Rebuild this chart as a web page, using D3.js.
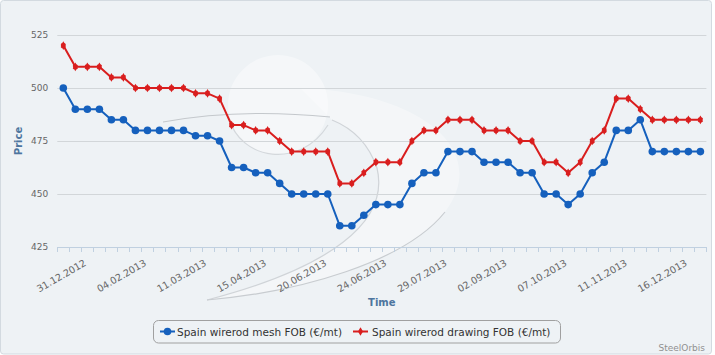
<!DOCTYPE html>
<html>
<head>
<meta charset="utf-8">
<script src="https://cdn.jsdelivr.net/npm/d3@7"></script>
<style>
html,body{margin:0;padding:0;background:#ffffff;}
svg{display:block;}
</style>
</head>
<body>
<svg id="chart" width="715" height="355"></svg>
<script>
// ---- data ----
const categories = [
  "17.12.2012","24.12.2012","31.12.2012","07.01.2013","14.01.2013","21.01.2013","28.01.2013","04.02.2013",
  "11.02.2013","18.02.2013","25.02.2013","04.03.2013","11.03.2013","18.03.2013","25.03.2013","01.04.2013",
  "08.04.2013","15.04.2013","22.04.2013","29.04.2013","06.05.2013","13.05.2013","20.06.2013","27.05.2013",
  "03.06.2013","10.06.2013","17.06.2013","24.06.2013","01.07.2013","08.07.2013","15.07.2013","22.07.2013",
  "29.07.2013","05.08.2013","12.08.2013","19.08.2013","26.08.2013","02.09.2013","09.09.2013","16.09.2013",
  "23.09.2013","30.09.2013","07.10.2013","14.10.2013","21.10.2013","28.10.2013","04.11.2013","11.11.2013",
  "18.11.2013","25.11.2013","02.12.2013","09.12.2013","16.12.2013","23.12.2013"
];
const meshValues = [
  500,490,490,490,485,485,480,480,480,480,480,477.5,477.5,475,462.5,462.5,460,460,
  455,450,450,450,450,435,435,440,445,445,445,455,460,460,470,470,470,
  465,465,465,460,460,450,450,445,450,460,465,480,480,485,470,470,470,470,470
];
const drawingValues = [
  520,510,510,510,505,505,500,500,500,500,500,497.5,497.5,495,482.5,482.5,480,480,
  475,470,470,470,470,455,455,460,465,465,465,475,480,480,485,485,485,
  480,480,480,475,475,465,465,460,465,475,480,495,495,490,485,485,485,485,485
];
const xTickLabels = ["31.12.2012","04.02.2013","11.03.2013","15.04.2013","20.06.2013","24.06.2013",
  "29.07.2013","02.09.2013","07.10.2013","11.11.2013","16.12.2013"];
const yTicks = [425,450,475,500,525];
const seriesNames = ["Spain wirerod mesh FOB (€/mt)","Spain wirerod drawing FOB (€/mt)"];
const seriesColors = ["#1560bd","#d91e1e"];

// ---- layout ----
const svg = d3.select("#chart");
const L = 57.3, R = 706.4, T = 35, B = 247;
const font = "'DejaVu Sans', Verdana, sans-serif";

svg.append("rect").attr("x",0.5).attr("y",0.5).attr("width",711).attr("height",353.5)
  .attr("rx",3).attr("fill","#eef2f5").attr("stroke","#d3dae0");

// watermark
const wm = svg.append("g").attr("pointer-events","none");
wm.append("path")
  .attr("d","M300,88 C420,92 492,150 445,212 C405,262 300,292 207,300 C330,268 392,222 377,168 C368,142 352,128 332,120 Z")
  .attr("fill","#ffffff").attr("opacity",0.35);
wm.append("circle").attr("cx",278).attr("cy",105).attr("r",50).attr("fill","#ffffff").attr("opacity",0.4);
wm.append("path").attr("d","M163,122 Q240,108 330,117").attr("fill","none").attr("stroke","#c4c8cc").attr("stroke-width",1.2);
wm.append("path").attr("d","M332,120 C352,128 368,142 377,168 C390,222 330,268 207,300")
  .attr("fill","none").attr("stroke","#d0d4d8").attr("stroke-width",1.2);
wm.append("path").attr("d","M445,212 C405,262 300,292 207,300")
  .attr("fill","none").attr("stroke","#c8ccd0").attr("stroke-width",1.2);
wm.append("path").attr("d","M229,118 C240,160 300,170 328,125")
  .attr("fill","none").attr("stroke","#d4d8dc").attr("stroke-width",1.2);

const x = d3.scaleBand().domain(d3.range(categories.length)).range([L,R]).padding(0);
const cx = i => x(i) + x.bandwidth()/2;
const y = d3.scaleLinear().domain([425,525]).range([B,T]);

// gridlines
svg.append("g").selectAll("line").data(yTicks.slice(1)).join("line")
  .attr("x1",L).attr("x2",R).attr("y1",d=>Math.round(y(d))+0.5).attr("y2",d=>Math.round(y(d))+0.5)
  .attr("stroke","#d2d6d9").attr("stroke-width",1.2);

// y axis labels
const yAxis = d3.axisLeft(y).tickValues(yTicks).tickSize(0).tickPadding(9);
const gy = svg.append("g").attr("transform",`translate(${L},0)`).call(yAxis);
gy.select(".domain").remove();
gy.selectAll("text").attr("font-family",font).attr("font-size","9px").attr("fill","#666");

// x axis
const gx = svg.append("g").attr("transform",`translate(0,${B})`);
gx.append("line").attr("x1",L).attr("x2",R).attr("y1",0.5).attr("y2",0.5).attr("stroke","#c0d0e0").attr("stroke-width",1.2);
const boundaries = d3.range(categories.length+1).map(i => i===categories.length ? R : x(i));
gx.selectAll("line.tk").data(boundaries).join("line").attr("class","tk")
  .attr("x1",d=>Math.round(d)+0.5).attr("x2",d=>Math.round(d)+0.5).attr("y1",0).attr("y2",5)
  .attr("stroke","#c0d0e0").attr("stroke-width",1);
const labelIdx = xTickLabels.map(l => categories.indexOf(l));
gx.selectAll("text.xl").data(labelIdx).join("text").attr("class","xl")
  .attr("transform",d=>`translate(${cx(d)-0.5},18) rotate(-30)`)
  .attr("text-anchor","end").attr("font-family",font).attr("font-size","9.6px").attr("fill","#666")
  .text(d=>categories[d]);

// axis titles
svg.append("text").attr("x",(L+R)/2).attr("y",306).attr("text-anchor","middle")
  .attr("font-family",font).attr("font-weight","bold").attr("font-size","10px").attr("fill","#4d759e").text("Time");
svg.append("text").attr("transform",`translate(22,${(T+B)/2}) rotate(-90)`).attr("text-anchor","middle")
  .attr("font-family",font).attr("font-weight","bold").attr("font-size","10px").attr("fill","#4d759e").text("Price");

// series
const line = d3.line().x((d,i)=>cx(i)).y(d=>y(d));
const diamond = d3.symbol().type(d3.symbolDiamond).size(22);
[meshValues, drawingValues].forEach((vals,si)=>{
  const g = svg.append("g");
  g.append("path").datum(vals).attr("d",line).attr("fill","none")
    .attr("stroke",seriesColors[si]).attr("stroke-width",2).attr("stroke-linejoin","round");
  if(si===0){
    g.selectAll("circle").data(vals).join("circle").attr("cx",(d,i)=>cx(i)).attr("cy",d=>y(d))
      .attr("r",3.8).attr("fill",seriesColors[si]);
  } else {
    g.selectAll("path.m").data(vals).join("path").attr("class","m")
      .attr("transform",(d,i)=>`translate(${cx(i)},${y(d)}) rotate(45) scale(1.05)`)
      .attr("d",d3.symbol().type(d3.symbolCross).size(16)).attr("fill",seriesColors[si]);
    g.selectAll("path.m2").data(vals).join("path").attr("class","m2")
      .attr("transform",(d,i)=>`translate(${cx(i)},${y(d)})`)
      .attr("d",diamond).attr("fill",seriesColors[si]);
  }
});

// legend
const lg = svg.append("g");
lg.append("rect").attr("x",153.5).attr("y",320.5).attr("width",407).attr("height",22.5).attr("rx",5)
  .attr("fill","none").attr("stroke","#a0a0a0").attr("stroke-width",1);
const items = [{x:160, tx:177},{x:353, tx:372}];
items.forEach((it,si)=>{
  lg.append("line").attr("x1",it.x).attr("x2",it.x+15).attr("y1",331.5).attr("y2",331.5)
    .attr("stroke",seriesColors[si]).attr("stroke-width",2);
  if(si===0) lg.append("circle").attr("cx",it.x+7.5).attr("cy",331.5).attr("r",3.8).attr("fill",seriesColors[si]);
  else lg.append("path").attr("transform",`translate(${it.x+7.5},331.5)`).attr("d",diamond).attr("fill",seriesColors[si]);
  lg.append("text").attr("x",it.tx).attr("y",335.5).attr("font-family",font).attr("font-size","10.5px")
    .attr("fill","#333").text(seriesNames[si]);
});

// credits
svg.append("text").attr("x",705).attr("y",351).attr("text-anchor","end").attr("font-family",font)
  .attr("font-size","9px").attr("fill","#909090").text("SteelOrbis");
</script>
</body>
</html>
